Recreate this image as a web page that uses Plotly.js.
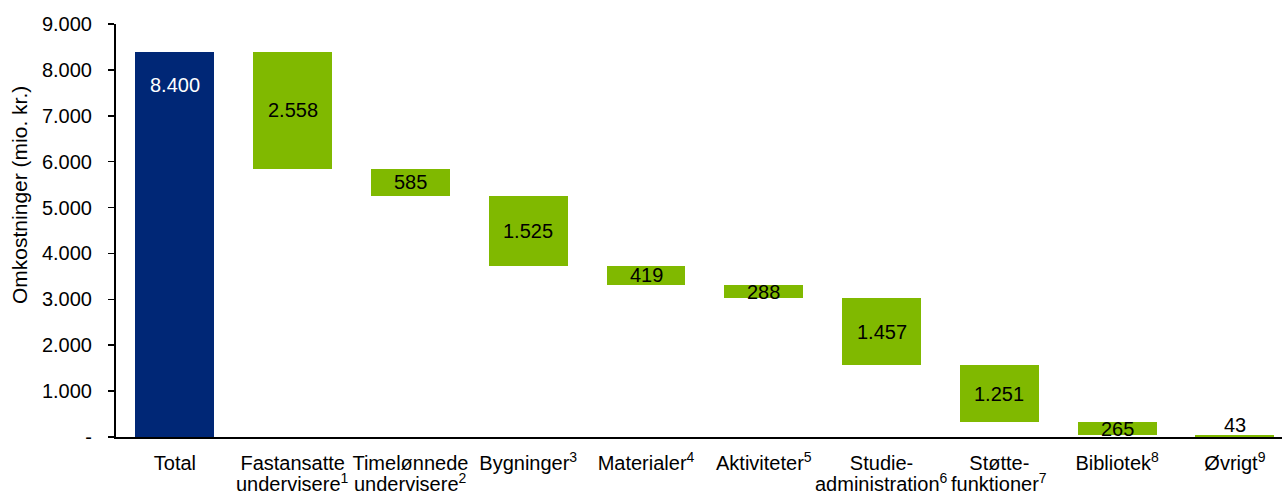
<!DOCTYPE html>
<html>
<head>
<meta charset="utf-8">
<script src="https://cdn.plot.ly/plotly-3.0.1.min.js"></script>
<style>html,body{margin:0;padding:0;background:#fff;}#chart{width:1282px;height:495px;}</style>
</head>
<body>
<div id="chart"></div>
<script>
const categoryLine1 = ["Total", "Fastansatte", "Timelønnede", "Bygninger<sup>3</sup>", "Materialer<sup>4</sup>", "Aktiviteter<sup>5</sup>", "Studie-", "Støtte-", "Bibliotek<sup>8</sup>", "Øvrigt<sup>9</sup>"];
const categoryLine2 = ["", "undervisere<sup>1</sup>", "undervisere<sup>2</sup>", "", "", "", "administration<sup>6</sup>", "funktioner<sup>7</sup>", "", ""];
const totalValue = 8400;
const componentValues = [2558, 585, 1525, 419, 288, 1457, 1251, 265, 43];
const yTickVals = [0, 1000, 2000, 3000, 4000, 5000, 6000, 7000, 8000, 9000];
const yTickText = ["-", "1.000", "2.000", "3.000", "4.000", "5.000", "6.000", "7.000", "8.000", "9.000"];
const yAxisTitle = "Omkostninger (mio. kr.)";

function fmt(n) { return String(n).replace(/\B(?=(\d{3})+(?!\d))/g, "."); }

const NAVY = "#002776";
const GREEN = "#80B900";
const FONT = "Liberation Sans, Arial, sans-serif";
const FS = 20;

// compute waterfall bases
const xs = categoryLine1.map((c, i) => i);
const heights = [totalValue];
const bases = [0];
let running = totalValue;
componentValues.forEach(v => { heights.push(v); bases.push(running - v); running -= v; });
const colors = xs.map(i => i === 0 ? NAVY : GREEN);

const annotations = [];
xs.forEach(i => {
  const h = heights[i], b = bases[i];
  if (i === 0) {
    annotations.push({x: i, y: b + h, text: fmt(h), showarrow: false, yanchor: "top", yshift: -20,
      font: {family: FONT, size: FS, color: "#ffffff"}});
  } else if (i === xs.length - 1) {
    annotations.push({x: i, y: b + h, text: fmt(h), showarrow: false, yanchor: "bottom", yshift: -3,
      font: {family: FONT, size: FS, color: "#000000"}});
  } else {
    annotations.push({x: i, y: b + h / 2, text: fmt(h), showarrow: false, yanchor: "middle",
      font: {family: FONT, size: FS, color: "#000000"}});
  }
  if (categoryLine2[i]) {
    annotations.push({x: i, y: 0, yref: "y", text: categoryLine2[i], showarrow: false,
      yanchor: "middle", yshift: -45, xanchor: "center", borderpad: 0,
      font: {family: FONT, size: FS, color: "#000000"}});
  }
});
annotations.push({xref: "paper", yref: "paper", x: 0, xshift: -96, y: 0.586, text: yAxisTitle,
  textangle: -90, showarrow: false, xanchor: "center", yanchor: "middle",
  font: {family: FONT, size: 21, color: "#000000"}});

const trace = {
  type: "bar",
  x: xs,
  y: heights,
  base: bases,
  marker: {color: colors, line: {width: 0}},
  width: 0.67,
  hoverinfo: "none"
};

const layout = {
  width: 1282, height: 495,
  margin: {l: 116, r: 0, t: 24, b: 58},
  paper_bgcolor: "#ffffff", plot_bgcolor: "#ffffff",
  font: {family: FONT, size: FS, color: "#000000"},
  showlegend: false,
  bargap: 0,
  xaxis: {
    range: [-0.5, 9.4],
    tickmode: "array", tickvals: xs, ticktext: categoryLine1,
    showline: true, linecolor: "#000000", linewidth: 2,
    showgrid: false, zeroline: false, ticks: "",
    ticklabelstandoff: 7,
    tickfont: {family: FONT, size: FS, color: "#000000"},
    fixedrange: true
  },
  yaxis: {
    range: [0, 9000],
    tickmode: "array", tickvals: yTickVals, ticktext: yTickText,
    showline: true, linecolor: "#000000", linewidth: 2,
    ticks: "outside", ticklen: 6, tickwidth: 1.5, tickcolor: "#000000",
    ticklabelstandoff: 12,
    showgrid: false, zeroline: false,
    tickfont: {family: FONT, size: FS, color: "#000000"},
    fixedrange: true
  },
  annotations: annotations
};

Plotly.newPlot("chart", [trace], layout, {displayModeBar: false, staticPlot: true});
</script>
</body>
</html>
